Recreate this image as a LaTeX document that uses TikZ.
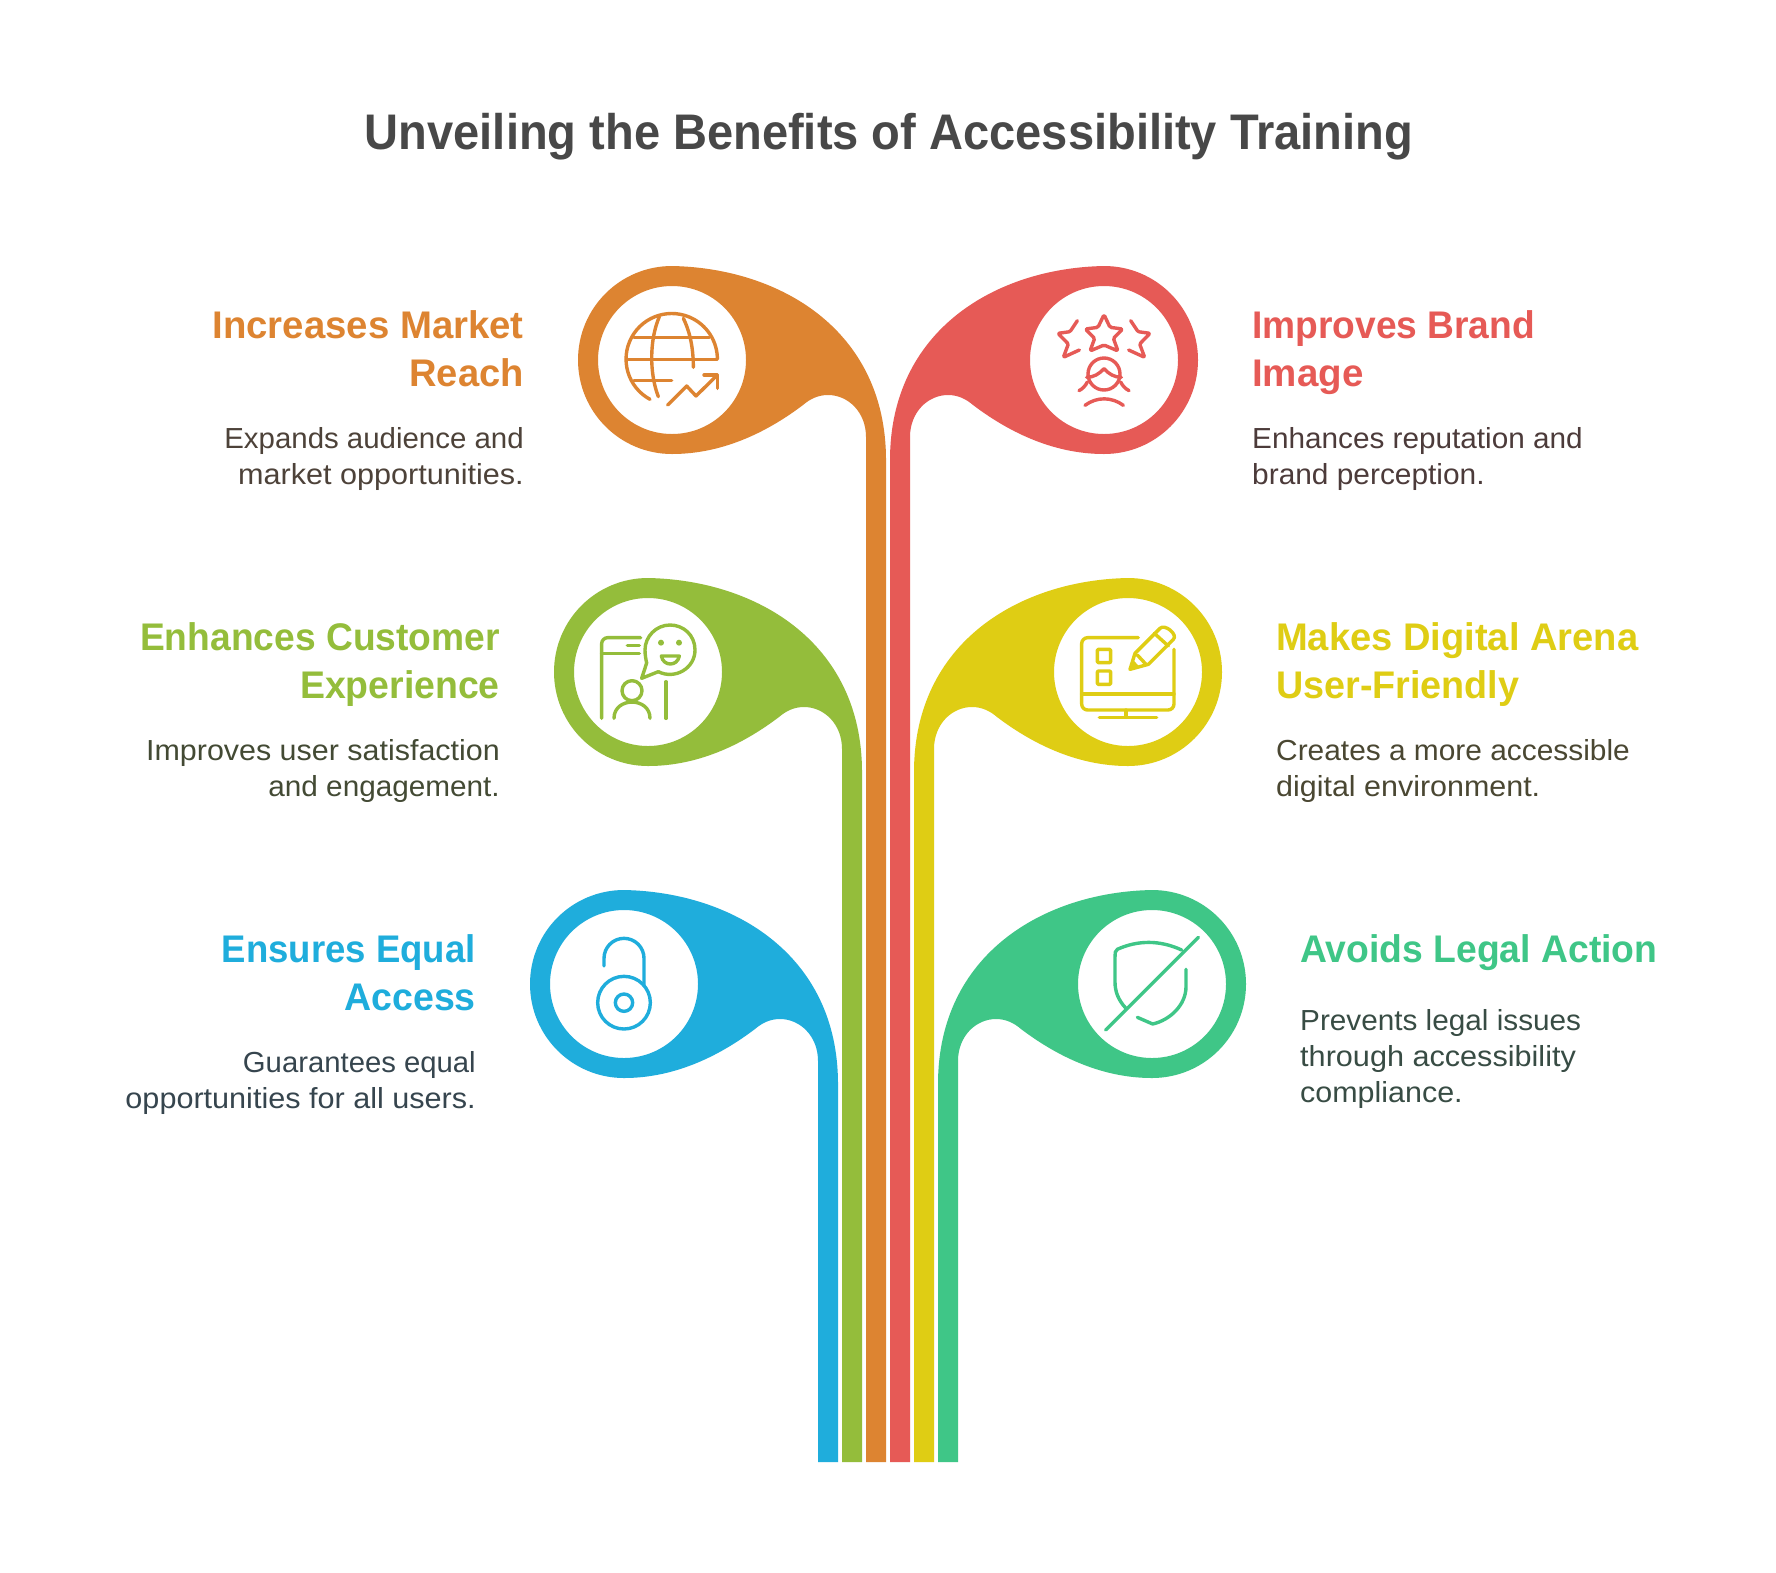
\documentclass[tikz,border=0pt]{standalone}
\usepackage{graphicx}
\usepackage{fontspec}
\setmainfont{Liberation Sans}
\definecolor{cor}{HTML}{DD8431}
\definecolor{cre}{HTML}{E65A56}
\definecolor{cgr}{HTML}{94BD3B}
\definecolor{cye}{HTML}{DFCD14}
\definecolor{cbl}{HTML}{1FADDC}
\definecolor{cmi}{HTML}{3FC687}
\definecolor{dor}{HTML}{4D4239}
\definecolor{dre}{HTML}{4C3B3A}
\definecolor{dgr}{HTML}{434A34}
\definecolor{dye}{HTML}{4A4732}
\definecolor{dbl}{HTML}{36454E}
\definecolor{dmi}{HTML}{384C44}
\definecolor{ctitle}{HTML}{484848}
\newcommand{\petalshape}[2]{% colour, dy of the petal (stem always ends at y=1462)
  \fill[#1,even odd rule]
    (866,{1462-#2}) -- (866,437)
    .. controls (866,412) and (848,395) .. (828,395)
    .. controls (818,395) and (810,399) .. (803,405)
    .. controls (770,430) and (725,454) .. (672,454)
    .. controls (620,454) and (578,412) .. (578,360)
    .. controls (578,308) and (620,266) .. (672,266)
    .. controls (780,268) and (886,330) .. (886,460)
    -- (886,{1462-#2}) -- cycle
    (672,360) circle[radius=74];
}
\tikzset{
  titletext/.style={font=\fontsize{50}{58}\selectfont\bfseries,text=ctitle,inner sep=0pt,anchor=base},
  headleft/.style={font=\fontsize{38.5}{48}\selectfont\bfseries,inner sep=0pt,align=right,anchor=north east},
  headright/.style={font=\fontsize{38.5}{48}\selectfont\bfseries,inner sep=0pt,align=left,anchor=north west},
  descleft/.style={font=\fontsize{29}{36}\selectfont,inner sep=0pt,align=right,anchor=north east},
  descright/.style={font=\fontsize{29}{36}\selectfont,inner sep=0pt,align=left,anchor=north west},
  icon/.style n args={3}{shift={(#1,#2)},x=.33333pt,y=-.33333pt,draw=#3,line width=3.4pt,line cap=round,line join=round},
  mirrored/.style={shift={(1776,0)},xscale=-1},
}
\newcommand{\hs}{\rule{0pt}{30pt}}
\newcommand{\ds}{\rule{0pt}{24pt}}
\newcommand{\fitw}[2]{\scalebox{#1}[1]{#2}}
\begin{document}
\begin{tikzpicture}[x=1pt,y=-1pt]
\useasboundingbox (0,0) rectangle (1776,1572);
\fill[white] (0,0) rectangle (1776,1572);

% petals
\begin{scope}\petalshape{cor}{0}\end{scope}
\begin{scope}[shift={(-24,312)}]\petalshape{cgr}{312}\end{scope}
\begin{scope}[shift={(-48,624)}]\petalshape{cbl}{624}\end{scope}
\begin{scope}[mirrored]\petalshape{cre}{0}\end{scope}
\begin{scope}[mirrored]\begin{scope}[shift={(-24,312)}]\petalshape{cye}{312}\end{scope}\end{scope}
\begin{scope}[mirrored]\begin{scope}[shift={(-48,624)}]\petalshape{cmi}{624}\end{scope}\end{scope}

% globe icon
\begin{scope}[icon={560}{250}{cor}]
  \draw (270,448) arc[start angle=118.4,end angle=360,radius=137];
  \draw (222,262) -- (448,262) (200,328) -- (470,328) (222,392) -- (335,392);
  \draw (298,200) .. controls (268,270) and (268,370) .. (295,440);
  \draw (370,205) .. controls (392,250) and (400,300) .. (400,352);
  \draw (323,465) -- (380,408) -- (408,438) -- (472,375);
  \draw (432,375) -- (472,375) -- (472,415);
\end{scope}

% stars and face icon
\begin{scope}[icon={880}{250}{cre}]
  \draw[rounded corners=1.5pt] (672,194) -- (690,232) -- (728,237) -- (700,265) -- (714,303) -- (672,285) -- (630,303) -- (644,265) -- (616,237) -- (654,232) -- cycle;
  \draw[rounded corners=1.2pt] (592,212) -- (570,245) -- (534,250) -- (565,282) -- (550,322) -- (598,300);
  \draw[rounded corners=1.2pt] (752,212) -- (774,245) -- (810,250) -- (779,282) -- (794,322) -- (746,300);
  \draw (672,372) circle[radius=48];
  \draw (620,382) .. controls (640,382) and (658,372) .. (672,356) .. controls (686,372) and (704,382) .. (724,382);
  \draw (597,422) .. controls (608,416) and (616,408) .. (622,396);
  \draw (747,422) .. controls (736,416) and (728,408) .. (722,396);
  \draw (615,466) .. controls (650,440) and (695,440) .. (730,466);
\end{scope}

% phone and smile icon
\begin{scope}[icon={550}{570}{cgr}]
  \draw[rounded corners=6pt] (155,445) -- (155,203) -- (272,203);
  \draw (155,251) -- (268,251) (232,227) -- (268,227);
  \draw (348,335) -- (348,445);
  \draw (290,279) -- (275,325) -- (325,305);
  \draw (325,305) .. controls (375,330) and (435,295) .. (435,240) .. controls (435,195) and (400,165) .. (360,165) .. controls (318,165) and (285,200) .. (285,240) .. controls (285,255) and (288,270) .. (290,279);
  \fill[cgr] (333,218) circle[radius=9] (387,218) circle[radius=9];
  \draw (334,258) -- (388,258) .. controls (382,290) and (340,290) .. (334,258) -- cycle;
  \draw (246,362) circle[radius=30];
  \draw (192,445) .. controls (192,380) and (300,380) .. (300,445);
\end{scope}

% monitor and pencil icon
\begin{scope}[icon={900}{570}{cye}]
  \draw[rounded corners=6pt] (715,203) -- (545,203) -- (545,420) -- (822,420) -- (822,238);
  \draw (545,372) -- (822,372);
  \draw (678,420) -- (678,442);
  \draw (598,443) -- (770,443);
  \draw[rounded corners=1pt] (592,238) rectangle (632,278);
  \draw[rounded corners=1pt] (592,303) rectangle (632,343);
  \draw (690,298) -- (705,250) -- (780,175) .. controls (795,160) and (835,195) .. (820,208) -- (745,283) -- cycle;
  \draw (763,190) -- (805,228);
  \draw (712,255) -- (738,283);
  \fill[cye] (690,298) -- (698,268) -- (718,290) -- cycle;
\end{scope}

% padlock icon
\begin{scope}[icon={520}{880}{cbl}]
  \draw (312,368) circle[radius=79];
  \draw (312,368) circle[radius=26];
  \draw (252,258) -- (252,235) arc[start angle=180,end angle=360,radius=60] -- (372,316);
\end{scope}

% crossed shield icon
\begin{scope}[icon={930}{880}{cmi}]
  \draw (527,450) -- (805,172);
  \draw[rounded corners=2pt] (755,210) .. controls (690,180) and (625,180) .. (557,210) -- (555,225) -- (555,300) .. controls (555,335) and (565,360) .. (587,384);
  \draw (768,268) -- (768,320) .. controls (768,375) and (720,420) .. (668,432) -- (622,412);
\end{scope}

% title
\node[titletext] (title) at (889,149) {\fitw{.941}{Unveiling the Benefits of Accessibility Training}};

% left texts
\node[headleft,text=cor] (h1) at (524,308) {\hs\fitw{.996}{Increases Market}\\\fitw{.99}{Reach}};
\node[descleft,text=dor] (d1) at (524,424) {\ds\fitw{1.015}{Expands audience and}\\\fitw{1.055}{market opportunities.}};
\node[headleft,text=cgr] (h2) at (500,620) {\hs\fitw{.966}{Enhances Customer}\\\fitw{.972}{Experience}};
\node[descleft,text=dgr] (d2) at (500,736) {\ds\fitw{1.05}{Improves user satisfaction}\\\fitw{1.025}{and engagement.}};
\node[headleft,text=cbl] (h3) at (476,932) {\hs\fitw{.949}{Ensures Equal}\\\fitw{.975}{Access}};
\node[descleft,text=dbl] (d3) at (476,1048) {\ds\fitw{1.01}{Guarantees equal}\\\fitw{1.055}{opportunities for all users.}};

% right texts
\node[headright,text=cre] (h4) at (1252,308) {\hs\fitw{.965}{Improves Brand}\\Image};
\node[descright,text=dre] (d4) at (1252,424) {\ds\fitw{1.025}{Enhances reputation and}\\\fitw{1.03}{brand perception.}};
\node[headright,text=cye] (h5) at (1276,620) {\hs\fitw{.99}{Makes Digital Arena}\\\fitw{.98}{User-Friendly}};
\node[descright,text=dye] (d5) at (1276,736) {\ds\fitw{1.03}{Creates a more accessible}\\\fitw{1.05}{digital environment.}};
\node[headright,text=cmi] (h6) at (1300,932) {\hs\fitw{.969}{Avoids Legal Action}};
\node[descright,text=dmi] (d6) at (1300,1006) {\ds\fitw{1.025}{Prevents legal issues}\\\fitw{1.056}{through accessibility}\\\fitw{1.05}{compliance.}};
\end{tikzpicture}
\end{document}
